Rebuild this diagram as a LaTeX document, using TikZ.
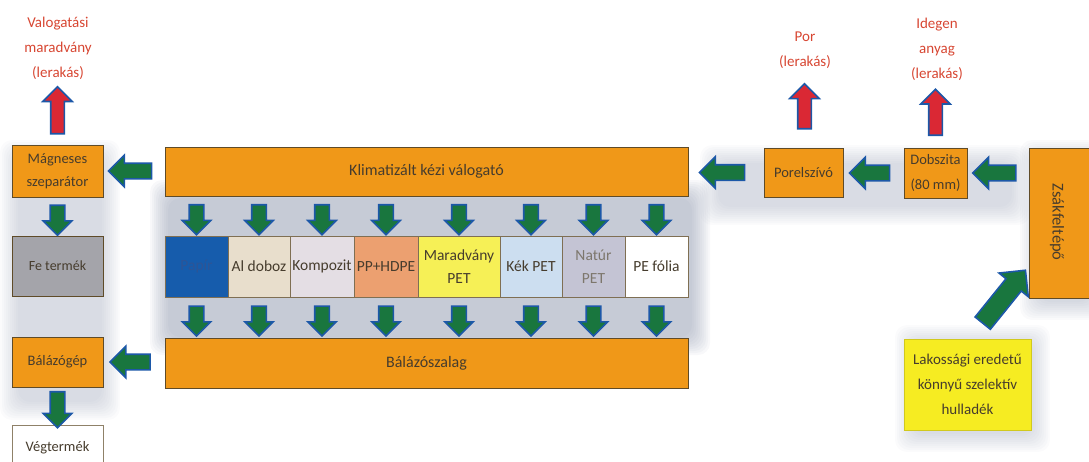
\documentclass[tikz,border=0pt]{standalone}
\usepackage{fontspec}
\setmainfont{Carlito}
\usetikzlibrary{shapes.arrows,calc}
\definecolor{orng}{RGB}{240,152,24}
\definecolor{boxline}{RGB}{95,75,40}
\definecolor{boxtext}{RGB}{70,60,45}
\definecolor{redtext}{RGB}{215,70,50}
\definecolor{arrgreen}{RGB}{25,118,62}
\definecolor{arrblue}{RGB}{28,88,168}
\definecolor{arrred}{RGB}{218,40,52}
\definecolor{papir}{RGB}{22,92,172}
\definecolor{papirtext}{RGB}{45,85,150}
\definecolor{aldoboz}{RGB}{232,222,204}
\definecolor{kompozit}{RGB}{228,222,228}
\definecolor{pphdpe}{RGB}{236,160,112}
\definecolor{maradv}{RGB}{246,240,86}
\definecolor{kekpet}{RGB}{204,222,240}
\definecolor{naturpet}{RGB}{196,196,212}
\definecolor{fetermek}{RGB}{164,164,170}
\definecolor{lakyellow}{RGB}{246,236,34}
\definecolor{shadowcol}{RGB}{130,140,165}
\newcommand\softshadow[5]{%
  \foreach \i in {0,...,9}{
    \fill[shadowcol, opacity=#5, rounded corners=12pt]
      ({#1-20+2*\i},{#2-20+2*\i}) rectangle ({#3+20-2*\i},{#4+20-2*\i});
  }}
\begin{document}
\begin{tikzpicture}[x=1pt,y=-1pt,
  obox/.style={draw=boxline, line width=1pt, fill=orng, text=boxtext, align=center, inner sep=2pt,
    font=\fontsize{14.5}{23}\selectfont},
  cbox/.style={draw=boxline!80, line width=0.8pt, text=boxtext, align=center, inner sep=1pt,
    minimum height=61pt, font=\fontsize{15.5}{23}\selectfont},
  redlbl/.style={text=redtext, align=center, font=\fontsize{15}{25}\selectfont},
  blockarr/.style={single arrow, draw=arrblue, fill=arrgreen, line width=1.6pt, inner xsep=0pt,
    sloped, allow upside down, minimum height=#1},
  harr/.style={blockarr=#1, inner ysep=7pt, single arrow head extend=8pt},
  varr/.style={blockarr=#1, inner ysep=6.5pt, single arrow head extend=7pt},
  uparr/.style={blockarr=#1, fill=arrred, inner ysep=6pt, single arrow head extend=8pt},
  diagarr/.style={blockarr=#1, inner ysep=9pt, single arrow head extend=9pt}
]
\useasboundingbox (0,0) rectangle (1089,461);

% soft shadows (background)
\softshadow{170}{200}{690}{335}{0.06}
\softshadow{20}{160}{100}{400}{0.035}
\softshadow{720}{165}{1010}{205}{0.035}
\softshadow{1040}{160}{1089}{300}{0.04}
\softshadow{915}{345}{1030}{432}{0.035}

% left column
\node[obox, minimum width=91pt, minimum height=52pt] (ms) at (57.5,171) {Mágneses\\szeparátor};
\node[cbox, fill=fetermek, draw=boxline, minimum width=91pt, minimum height=60pt,
  font=\fontsize{14}{20}\selectfont] (fe) at (57.5,266) {Fe termék};
\node[obox, minimum width=91pt, minimum height=50pt] (bg) at (57.5,362) {Bálázógép};
\node[cbox, fill=white, draw=boxline!70, minimum width=91pt, minimum height=46pt,
  font=\fontsize{14.5}{20}\selectfont] (vt) at (57.5,448) {Végtermék};
\node[redlbl] (vm) at (58,48) {Valogatási\\maradvány\\(lerakás)};

% bars
\node[obox, minimum width=523pt, minimum height=49pt, font=\fontsize{16}{20}\selectfont] (kv) at (426.5,171.5) {Klimatizált kézi válogató};
\node[obox, minimum width=523pt, minimum height=50pt, font=\fontsize{16}{20}\selectfont] (bsz) at (426.5,363) {Bálázószalag};

% category boxes
\node[cbox, fill=papir, text=papirtext, minimum width=63pt] (c1) at (196.5,266.5) {Papír};
\node[cbox, fill=aldoboz, minimum width=62pt] (c2) at (259,266.5) {Al doboz};
\node[cbox, fill=kompozit, minimum width=64pt] (c3) at (322,266.5) {Kompozit};
\node[cbox, fill=pphdpe, minimum width=64pt] (c4) at (386,266.5) {PP+HDPE};
\node[cbox, fill=maradv, minimum width=82pt] (c5) at (459,266.5) {Maradvány\\PET};
\node[cbox, fill=kekpet, minimum width=62pt] (c6) at (531,266.5) {Kék PET};
\node[cbox, fill=naturpet, text=boxtext!70, minimum width=63pt] (c7) at (593.5,266.5) {Natúr\\PET};
\node[cbox, fill=white, minimum width=63pt] (c8) at (656.5,266.5) {PE fólia};

% right part
\node[obox, minimum width=79pt, minimum height=49pt] (pe) at (803.5,172.5) {Porelszívó};
\node[obox, minimum width=63pt, minimum height=50pt, font=\fontsize{14.5}{25}\selectfont] (ds) at (935.5,173) {Dobszita\\(80 mm)};
\node[obox, minimum width=65pt, minimum height=150pt] (zs) at (1062,223) {};
\node[text=boxtext, rotate=-90, font=\fontsize{16.5}{18}\selectfont] (zst) at (1057,222) {Zsákfeltépő};
\node[draw=lakyellow!85!black, line width=0.5pt, fill=lakyellow, text=boxtext, align=center,
  minimum width=127pt, minimum height=91pt, font=\fontsize{15}{25}\selectfont] (ly) at (967.5,384.5)
  {Lakossági eredetű\\könnyű szelektív\\hulladék};
\node[redlbl] (por) at (805,50) {Por\\(lerakás)};
\node[redlbl] (ia) at (937,49) {Idegen\\anyag\\(lerakás)};

% arrows
\path (kv.west |- ms.east) -- node[harr=43] {} (ms.east);
\path (bsz.west |- bg.east) -- node[harr=40] {} (bg.east);
\path (pe.west) -- node[harr=45] {} (pe.west -| kv.east);
\path (ds.west) -- node[harr=40] {} (ds.west -| pe.east);
\path (zs.west |- ds.east) -- node[harr=43] {} (ds.east);

\path (ms.south) -- node[varr=30] {} (fe.north);
\path (bg.south) -- node[varr=36] {} (vt.north);
\foreach \c in {c1,c2,c3,c4,c5,c6,c7,c8}{
  \path (\c.north |- kv.south) -- node[varr=30] {} (\c.north);
  \path (\c.south) -- node[varr=30] {} (\c.south |- bsz.north);
}

\path (ms.north) -- node[uparr=47] {} (ms.north |- vm.south);
\path ([xshift=1pt]pe.north) -- node[uparr=45] {} ([xshift=1pt]pe.north |- por.south);
\path (ds.north) -- node[uparr=46] {} (ds.north |- ia.south);

\coordinate (d1) at (978,329);
\coordinate (d2) at (1024,272);
\path (d1) -- node[diagarr=68] {} (d2);
\end{tikzpicture}
\end{document}
